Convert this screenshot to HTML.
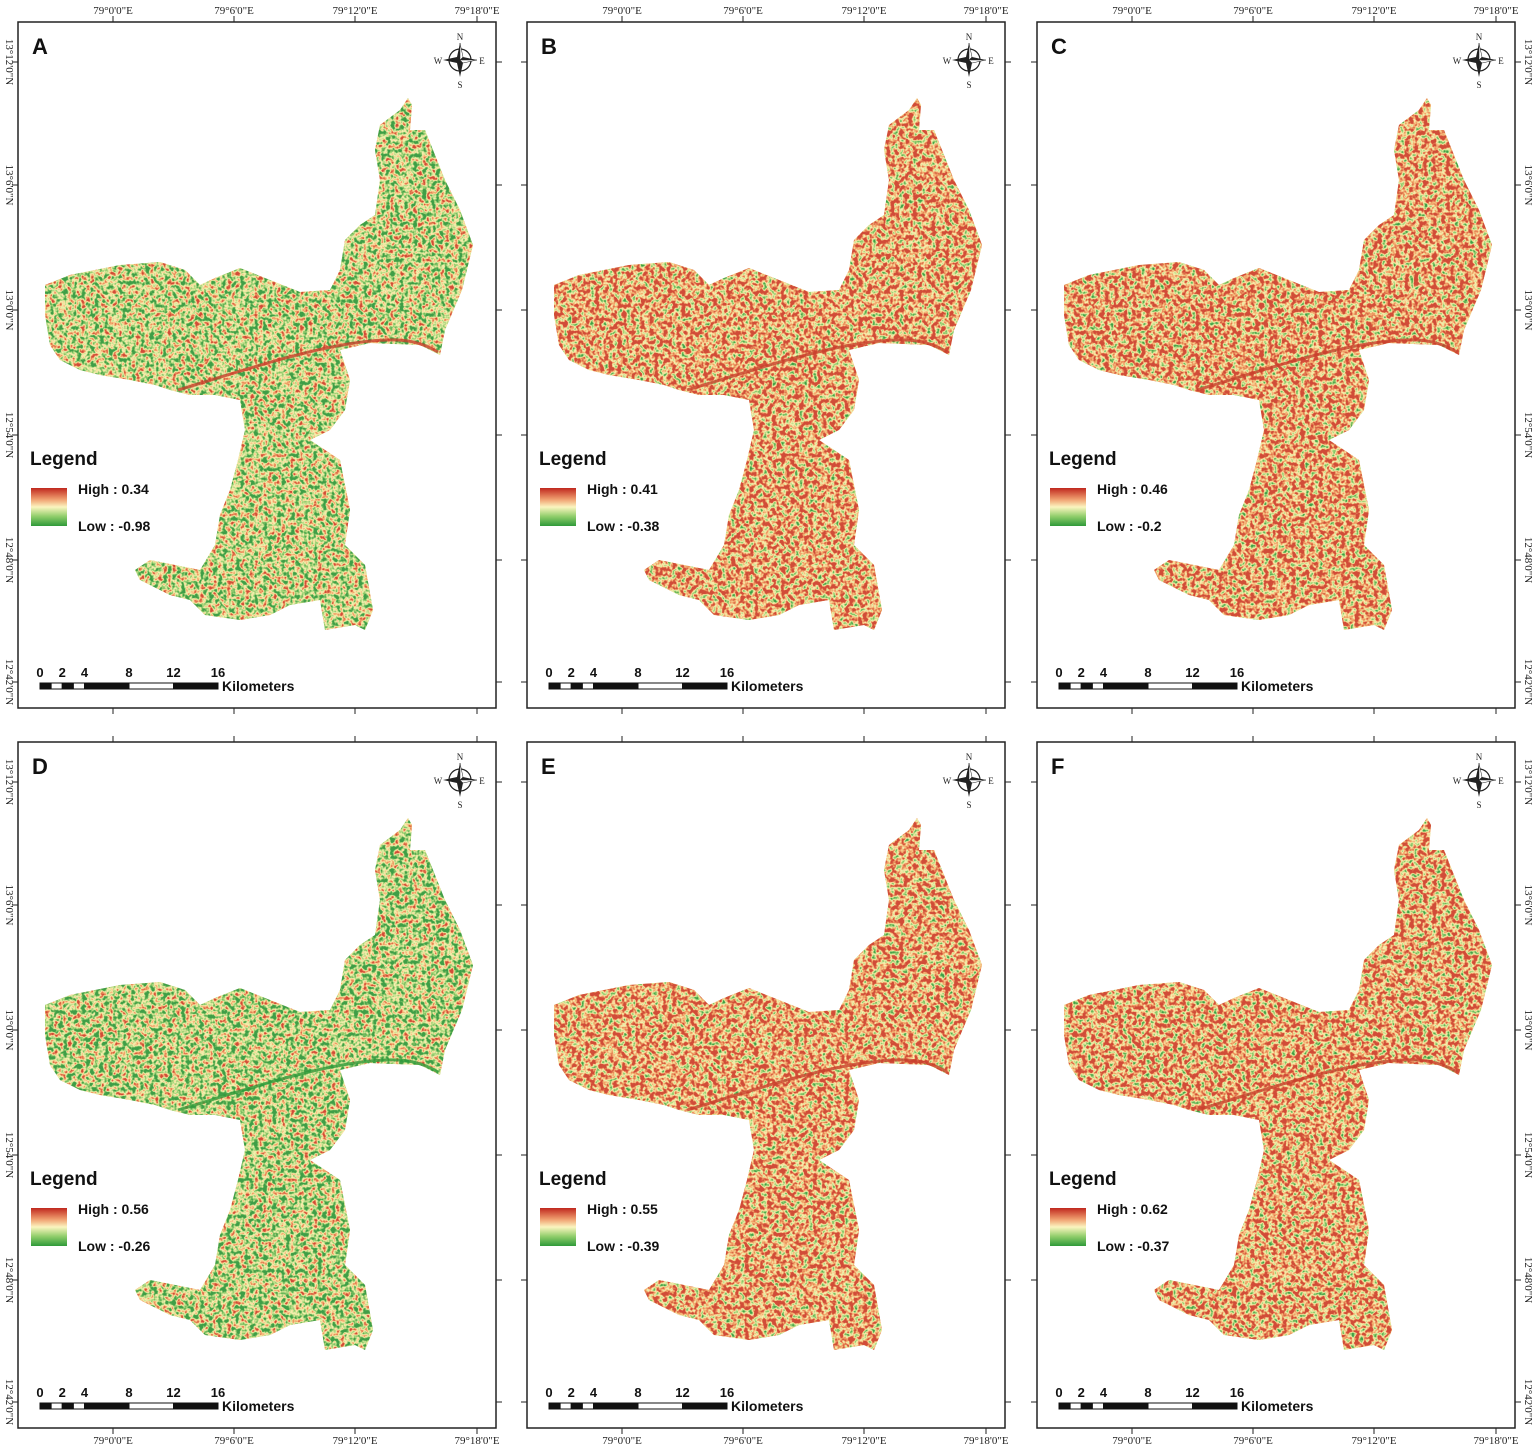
<!DOCTYPE html>
<html><head><meta charset="utf-8"><style>
html,body{margin:0;padding:0;background:#fff;}
svg{display:block;font-family:"Liberation Sans",Arial,sans-serif;}
</style></head><body>
<svg id="fig" width="1535" height="1449" viewBox="0 0 1535 1449">
<defs>
<linearGradient id="lg" x1="0" y1="0" x2="0" y2="1">
<stop offset="0" stop-color="#c0281e"/><stop offset="0.3" stop-color="#f0a070"/><stop offset="0.5" stop-color="#fbf5c0"/><stop offset="0.75" stop-color="#8fcd6a"/><stop offset="1" stop-color="#2f9a3a"/>
</linearGradient>
</defs>
</svg>
<script>
const panelLabels=["A","B","C","D","E","F"];
const highValues=["0.34","0.41","0.46","0.56","0.55","0.62"];
const lowValues=["-0.98","-0.38","-0.2","-0.26","-0.39","-0.37"];
const meanIndex=[0.4,0.72,0.73,0.37,0.72,0.72];
const lonTicks=["79°0'0\"E","79°6'0\"E","79°12'0\"E","79°18'0\"E"];
const latTicks=["13°12'0\"N","13°6'0\"N","13°0'0\"N","12°54'0\"N","12°48'0\"N","12°42'0\"N"];
const scaleLabels=["0","2","4","8","12","16"];
const scaleKm=[0,2,4,8,12,16];

const NS="http://www.w3.org/2000/svg";
const svg=document.getElementById('fig');
const defs=svg.querySelector('defs');
function mk(tag,attrs,parent){const e=document.createElementNS(NS,tag);for(const k in attrs)e.setAttribute(k,attrs[k]);(parent||svg).appendChild(e);return e;}

const origins=[[18,22],[527,22],[1037,22],[18,742],[527,742],[1037,742]];
const W=478,H=686;
const lonX=[95,216,337,459];
const latY=[40,163,288,413,538,660];
const shapeAbs=[[45,285],[70,275],[120,265],[160,262],[185,270],[200,285],[215,278],[240,268],[270,280],[300,292],[330,290],[340,270],[345,240],[360,225],[375,215],[380,180],[375,150],[380,125],[400,110],[408,98],[412,105],[410,130],[425,130],[445,180],[460,210],[473,245],[462,290],[445,330],[440,355],[420,345],[370,343],[340,350],[350,380],[345,410],[330,430],[310,440],[340,460],[350,510],[345,545],[365,565],[373,610],[365,630],[355,625],[325,630],[320,600],[290,605],[270,615],[240,620],[205,615],[190,600],[170,595],[140,580],[135,570],[150,560],[175,565],[200,570],[215,545],[220,515],[230,490],[238,460],[245,430],[240,400],[215,395],[190,395],[170,390],[155,385],[130,380],[100,375],[80,370],[60,360],[50,345],[45,315]];
const shapePts=shapeAbs.map(p=>(p[0]-18)+","+(p[1]-22)).join(" ");
const kmScale=(218-40)/16;

panelLabels.forEach((lab,i)=>{
  const [ox,oy]=origins[i];
  const row=i<3?0:1, col=i%3;
  const t=meanIndex[i];
  const f=mk('filter',{id:'tex'+i,x:'0',y:'0',width:'100%',height:'100%','color-interpolation-filters':'sRGB'},defs);
  mk('feTurbulence',{type:'fractalNoise',baseFrequency:'0.22',numOctaves:'2',seed:String(i*7+3),result:'n'},f);
  const c=2.4;
  const b=(t-c/2).toFixed(3);
  mk('feColorMatrix',{type:'matrix',values:`${c} 0 0 0 ${b} ${c} 0 0 0 ${b} ${c} 0 0 0 ${b} 0 0 0 0 1`},f);
  const ct=mk('feComponentTransfer',{},f);
  mk('feFuncR',{type:'table',tableValues:'0.25 0.62 0.98 0.95 0.82'},ct);
  mk('feFuncG',{type:'table',tableValues:'0.62 0.82 0.95 0.66 0.30'},ct);
  mk('feFuncB',{type:'table',tableValues:'0.28 0.45 0.70 0.42 0.22'},ct);
  mk('feFuncA',{type:'table',tableValues:'1 1'},ct);
  mk('feComposite',{operator:'in',in2:'SourceGraphic'},f);

  const g=mk('g',{transform:`translate(${ox},${oy})`});
  
  
  const fr=mk('rect',{x:0,y:0,width:W,height:H,fill:'#fff',stroke:'#222','stroke-width':1.5},g);
  
  
  lonX.forEach((x,k)=>{
    mk('line',{x1:x,y1:-6,x2:x,y2:0,stroke:'#222'},g);
    mk('line',{x1:x,y1:H,x2:x,y2:H+6,stroke:'#222'},g);
    const ty=row===0?-8:H+16;
    const tx=mk('text',{x:x,y:ty,'text-anchor':'middle','font-size':11,'font-family':'Liberation Serif,serif',fill:'#222'},g);
    tx.textContent=lonTicks[k];
    
    
  });
  latY.forEach((y,k)=>{
    mk('line',{x1:-6,y1:y,x2:0,y2:y,stroke:'#222'},g);
    mk('line',{x1:W,y1:y,x2:W+6,y2:y,stroke:'#222'},g);
    if(col===0||col===2){
      const lx=col===0?-12:W+10;
      const tx=mk('text',{x:lx,y:y,'text-anchor':'middle','font-size':11,'font-family':'Liberation Serif,serif',fill:'#222',transform:`rotate(90 ${lx} ${y})`},g);
      tx.textContent=latTicks[k];
      
      
    }
  });
  mk('polygon',{points:shapePts,fill:'#e8d890'},g);
  const tex=mk('polygon',{points:shapePts,fill:'#000',filter:`url(#tex${i})`},g);
  
  
  mk('path',{d:'M160 368 C 220 350, 280 330, 330 322 S 400 318, 420 330',fill:'none',stroke:i===3?'#2f9a3a':'#c8402c','stroke-width':3,opacity:0.8},g);
  const pl=mk('text',{x:14,y:32,'font-size':22,'font-weight':'bold',fill:'#111'},g);
  pl.textContent=lab;
  
  
  const na=mk('g',{transform:'translate(442,38)'},g);
  
  
  mk('circle',{cx:0,cy:0,r:11,fill:'none',stroke:'#222','stroke-width':1.2},na);
  mk('polygon',{points:'0,-17 3,-3 17,0 3,3 0,17 -3,3 -17,0 -3,-3',fill:'#222'},na);
  mk('polygon',{points:'0,-17 3,-3 0,0',fill:'#fff',stroke:'#222','stroke-width':0.5},na);
  mk('polygon',{points:'17,0 3,3 0,0',fill:'#fff',stroke:'#222','stroke-width':0.5},na);
  [['N',0,-20],['S',0,28],['E',22,4],['W',-22,4]].forEach(d=>{
    const t2=mk('text',{x:d[1],y:d[2],'text-anchor':'middle','font-size':9,'font-family':'Liberation Serif,serif',fill:'#222'},na);t2.textContent=d[0];
  });
  const lgd=mk('g',{},g);
  
  
  const lt=mk('text',{x:12,y:443,'font-size':19,'font-weight':'bold',fill:'#111'},lgd);lt.textContent='Legend';
  mk('rect',{x:13,y:466,width:36,height:38,fill:'url(#lg)'},lgd);
  const ht=mk('text',{x:60,y:472,'font-size':14,'font-weight':'bold',fill:'#111'},lgd);ht.textContent='High : '+highValues[i];
  
  
  const lo=mk('text',{x:60,y:509,'font-size':14,'font-weight':'bold',fill:'#111'},lgd);lo.textContent='Low : '+lowValues[i];
  
  
  const sb=mk('g',{},g);
  
  
  const x0=22, sy=661;
  const segs=[0,1,2,3,4,8,12,16];
  for(let s=0;s<segs.length-1;s++){
    mk('rect',{x:x0+segs[s]*kmScale,y:sy,width:(segs[s+1]-segs[s])*kmScale,height:6,fill:s%2===0?'#111':'#fff',stroke:'#111','stroke-width':1},sb);
  }
  scaleLabels.forEach((s,k)=>{
    const t3=mk('text',{x:x0+scaleKm[k]*kmScale,y:sy-6,'text-anchor':'middle','font-size':13,'font-weight':'bold',fill:'#111'},sb);t3.textContent=s;
  });
  const km=mk('text',{x:x0+16*kmScale+4,y:sy+8,'font-size':14,'font-weight':'bold',fill:'#111'},sb);km.textContent='Kilometers';
});
</script>
</body></html>
